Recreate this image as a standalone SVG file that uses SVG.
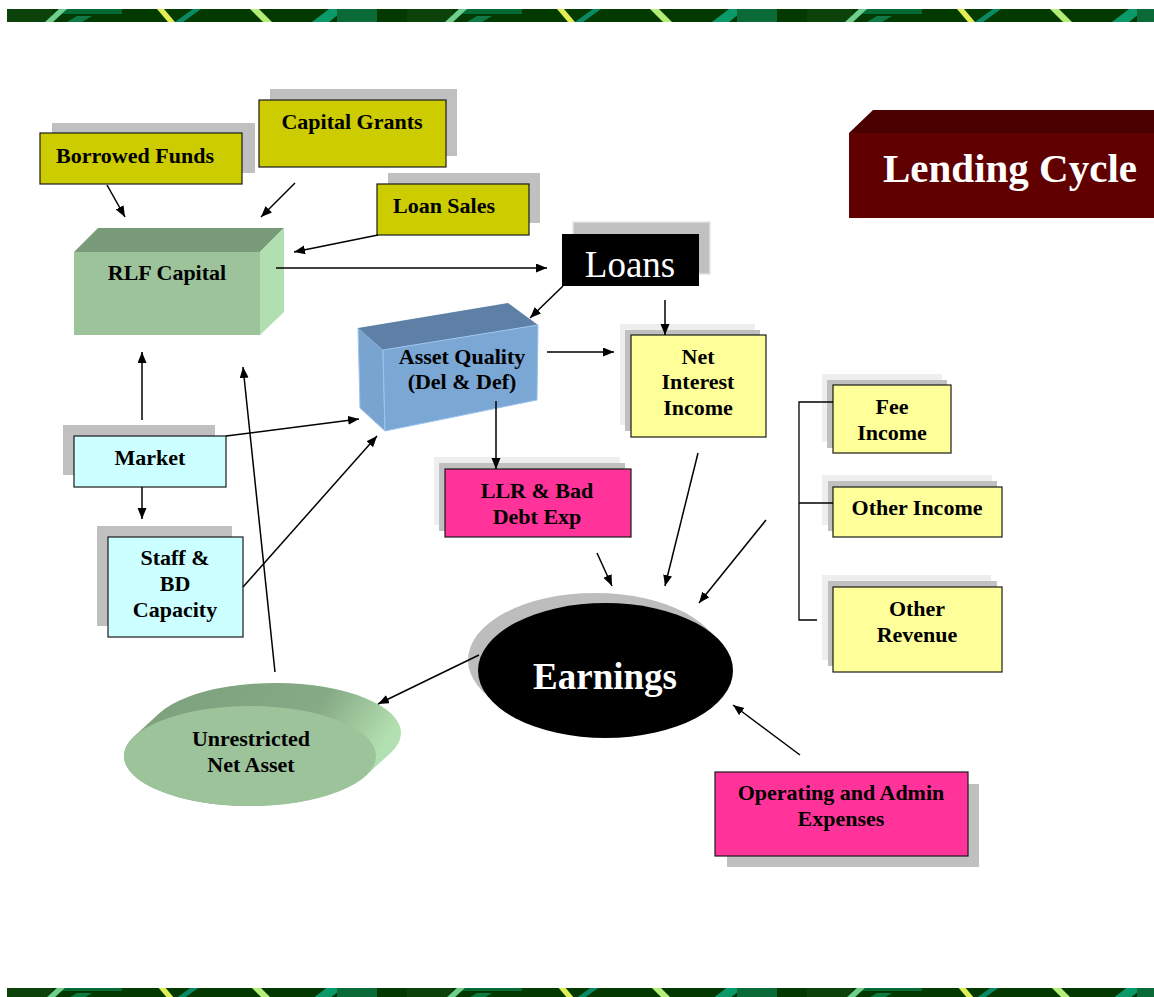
<svg xmlns="http://www.w3.org/2000/svg" width="1154" height="997" viewBox="0 0 1154 997">
<style>
.t{font-family:"Liberation Serif","Times New Roman",serif;font-weight:bold;font-size:22px;fill:#000;text-anchor:middle}
.w{fill:#fff}
.box{stroke:#1a1a1a;stroke-width:1.2}
.sh{fill:#c0c0c0}
.lt{fill:#eeeeee}
.yel{fill:#cccc00}
.ly{fill:#ffff99}
.cy{fill:#ccffff}
.pk{fill:#ff3399}
.c line,.c path{stroke:#000;stroke-width:1.5;fill:none}
</style>
<defs>
<marker id="ah" markerUnits="userSpaceOnUse" markerWidth="12" markerHeight="10" refX="11" refY="4.5" orient="auto">
<path d="M0,0 L11,4.5 L0,9 z" fill="#000"/>
</marker>
<g id="banart">
<rect x="0" y="0" width="400" height="13" fill="#023a02"/>
<rect x="0" y="0" width="45" height="13" fill="#0b430b"/>
<rect x="55" y="0" width="60" height="5" fill="#076a35"/>
<polygon points="38,13 46,13 60,0 52,0" fill="#6fcf8f"/>
<polygon points="60,13 75,13 85,7 70,7" fill="#0f7a45"/>
<polygon points="150,0 157,0 168,13 161,13" fill="#e2ee55"/>
<polygon points="168,13 176,13 194,0 186,0" fill="#0a8a66"/>
<polygon points="243,0 252,0 265,13 256,13" fill="#b5ee77"/>
<polygon points="305,13 322,13 338,0 322,0" fill="#0a9a6a"/>
<rect x="330" y="0" width="40" height="13" fill="#0a6a38"/>
</g>
<pattern id="ban" patternUnits="userSpaceOnUse" x="7" y="9" width="400" height="13">
<use href="#banart"/>
</pattern>
<pattern id="ban2" patternUnits="userSpaceOnUse" x="7" y="986" width="400" height="13">
<use href="#banart"/>
</pattern>
<linearGradient id="disc" x1="0" y1="0" x2="1" y2="0.3">
<stop offset="0" stop-color="#7d9f7c"/>
<stop offset="0.7" stop-color="#86aa85"/>
<stop offset="1" stop-color="#b3e0b1"/>
</linearGradient>
</defs>
<rect x="0" y="0" width="1154" height="997" fill="#fff"/>
<rect x="7" y="9" width="1147" height="13" fill="url(#ban)"/>
<rect x="7" y="988" width="1147" height="9" fill="url(#ban2)"/>

<g id="lending-cycle">
<polygon points="849,133 873,110 1154,110 1154,133" fill="#4a0000"/>
<rect x="849" y="133" width="305" height="85" fill="#600000"/>
<text class="t w" x="1010" y="182" style="font-size:41px">Lending Cycle</text>
</g>

<g id="borrowed-funds">
<rect class="sh" x="52" y="123" width="203" height="50"/>
<rect class="box yel" x="40" y="133" width="202" height="51"/>
<text class="t" x="135" y="163">Borrowed Funds</text>
</g>

<g id="capital-grants">
<rect class="sh" x="270" y="89" width="187" height="67"/>
<rect class="box yel" x="259" y="100" width="187" height="67"/>
<text class="t" x="352" y="129">Capital Grants</text>
</g>

<g id="loan-sales">
<rect class="sh" x="388" y="173" width="152" height="50"/>
<rect class="box yel" x="377" y="184" width="152" height="51"/>
<text class="t" x="444" y="213">Loan Sales</text>
</g>

<g id="rlf-capital">
<polygon points="74,252 98,228 284,228 260,252" fill="#7a9b7a"/>
<polygon points="260,252 284,228 284,312 260,335" fill="#b1dfb0"/>
<rect x="74" y="252" width="186" height="83" fill="#9dc39b"/>
<text class="t" x="167" y="280">RLF Capital</text>
</g>

<g id="loans">
<rect x="573" y="222" width="137" height="52" fill="#c0c0c0" stroke="#e6e6e6" stroke-width="1.5"/>
<rect x="562" y="234" width="137" height="52" fill="#000"/>
<text x="630" y="277" style="font-family:'Liberation Serif','Times New Roman',serif;font-size:37px;fill:#fff;text-anchor:middle">Loans</text>
</g>

<g id="asset-quality">
<polygon points="358,328 383,350 385,431 360,408" fill="#7aa4d0" stroke="#9cc4ee" stroke-width="1"/>
<polygon points="358,328 508,303 538,325 383,350" fill="#5e7fa6"/>
<polygon points="383,350 538,325 537,400 385,431" fill="#7ba7d4" stroke="#9cc4ee" stroke-width="1"/>
<text class="t" x="462" y="364">Asset Quality</text>
<text class="t" x="462" y="389">(Del &amp; Def)</text>
</g>

<g id="net-interest-income">
<rect class="lt" x="620" y="324" width="135" height="101"/>
<rect class="sh" x="625" y="330" width="135" height="101"/>
<rect class="box ly" x="631" y="335" width="135" height="102"/>
<text class="t" x="698" y="364">Net</text>
<text class="t" x="698" y="389">Interest</text>
<text class="t" x="698" y="415">Income</text>
</g>

<g id="fee-income">
<rect class="lt" x="822" y="374" width="120" height="68"/>
<rect class="sh" x="827" y="380" width="120" height="68"/>
<rect class="box ly" x="833" y="385" width="118" height="68"/>
<text class="t" x="892" y="414">Fee</text>
<text class="t" x="892" y="440">Income</text>
</g>

<g id="other-income">
<rect class="lt" x="822" y="475" width="170" height="50"/>
<rect class="sh" x="828" y="481" width="169" height="50"/>
<rect class="box ly" x="833" y="487" width="169" height="50"/>
<text class="t" x="917" y="515">Other Income</text>
</g>

<g id="other-revenue">
<rect class="lt" x="822" y="575" width="169" height="85"/>
<rect class="sh" x="828" y="581" width="169" height="85"/>
<rect class="box ly" x="833" y="587" width="169" height="85"/>
<text class="t" x="917" y="616">Other</text>
<text class="t" x="917" y="642">Revenue</text>
</g>

<g id="market">
<rect class="sh" x="63" y="425" width="152" height="50"/>
<rect class="box cy" x="74" y="436" width="152" height="51"/>
<text class="t" x="150" y="465">Market</text>
</g>

<g id="staff-bd-capacity">
<rect class="sh" x="97" y="526" width="135" height="100"/>
<rect class="box cy" x="108" y="537" width="135" height="100"/>
<text class="t" x="175" y="565">Staff &amp;</text>
<text class="t" x="175" y="591">BD</text>
<text class="t" x="175" y="617">Capacity</text>
</g>

<g id="llr-bad-debt">
<rect class="lt" x="434" y="457" width="186" height="68"/>
<rect class="sh" x="439" y="463" width="186" height="68"/>
<rect class="box pk" x="445" y="469" width="186" height="68"/>
<text class="t" x="537" y="498">LLR &amp; Bad</text>
<text class="t" x="537" y="524">Debt Exp</text>
</g>

<g id="earnings">
<ellipse cx="595" cy="660" rx="127" ry="67" fill="#bdbdbd"/>
<ellipse cx="605.5" cy="670.5" rx="127.5" ry="67.5" fill="#000"/>
<text class="t w" x="605" y="689" style="font-size:37px">Earnings</text>
</g>

<g id="unrestricted-net-asset">
<path d="M134.3,736.2 L159.3,713.2 A126,50 0 0 1 390.7,752.8 L365.7,775.8 A126,50 0 0 1 134.3,736.2 Z" fill="url(#disc)"/>
<ellipse cx="250" cy="756" rx="126" ry="50" fill="#9dc39b"/>
<text class="t" x="251" y="746">Unrestricted</text>
<text class="t" x="251" y="772">Net Asset</text>
</g>

<g id="operating-admin">
<rect class="sh" x="727" y="784" width="252" height="83"/>
<rect class="box pk" x="715" y="772" width="253" height="84"/>
<text class="t" x="841" y="800">Operating and Admin</text>
<text class="t" x="841" y="826">Expenses</text>
</g>

<g id="connectors" class="c">
<line x1="107" y1="185" x2="125" y2="217" marker-end="url(#ah)"/>
<line x1="295" y1="183" x2="261" y2="217" marker-end="url(#ah)"/>
<line x1="378" y1="235" x2="294" y2="252" marker-end="url(#ah)"/>
<line x1="276" y1="268" x2="547" y2="268" marker-end="url(#ah)"/>
<line x1="563" y1="286" x2="530" y2="318" marker-end="url(#ah)"/>
<line x1="665" y1="300" x2="665" y2="335" marker-end="url(#ah)"/>
<line x1="547" y1="352" x2="614" y2="352" marker-end="url(#ah)"/>
<line x1="496" y1="401" x2="496" y2="469" marker-end="url(#ah)"/>
<line x1="142" y1="420" x2="142" y2="352" marker-end="url(#ah)"/>
<line x1="142" y1="487" x2="142" y2="519" marker-end="url(#ah)"/>
<line x1="226" y1="436" x2="359" y2="419" marker-end="url(#ah)"/>
<line x1="243" y1="587" x2="377" y2="436" marker-end="url(#ah)"/>
<line x1="275" y1="672" x2="243" y2="367" marker-end="url(#ah)"/>
<line x1="597" y1="553" x2="612" y2="586" marker-end="url(#ah)"/>
<line x1="698" y1="453" x2="665" y2="586" marker-end="url(#ah)"/>
<line x1="766" y1="520" x2="699" y2="603" marker-end="url(#ah)"/>
<line x1="479" y1="655" x2="378" y2="704" marker-end="url(#ah)"/>
<line x1="800" y1="755" x2="733" y2="705" marker-end="url(#ah)"/>
<path d="M833,402 H799 V620 H817 M799,503 H833" style="stroke-width:1.3"/>
</g>
</svg>
